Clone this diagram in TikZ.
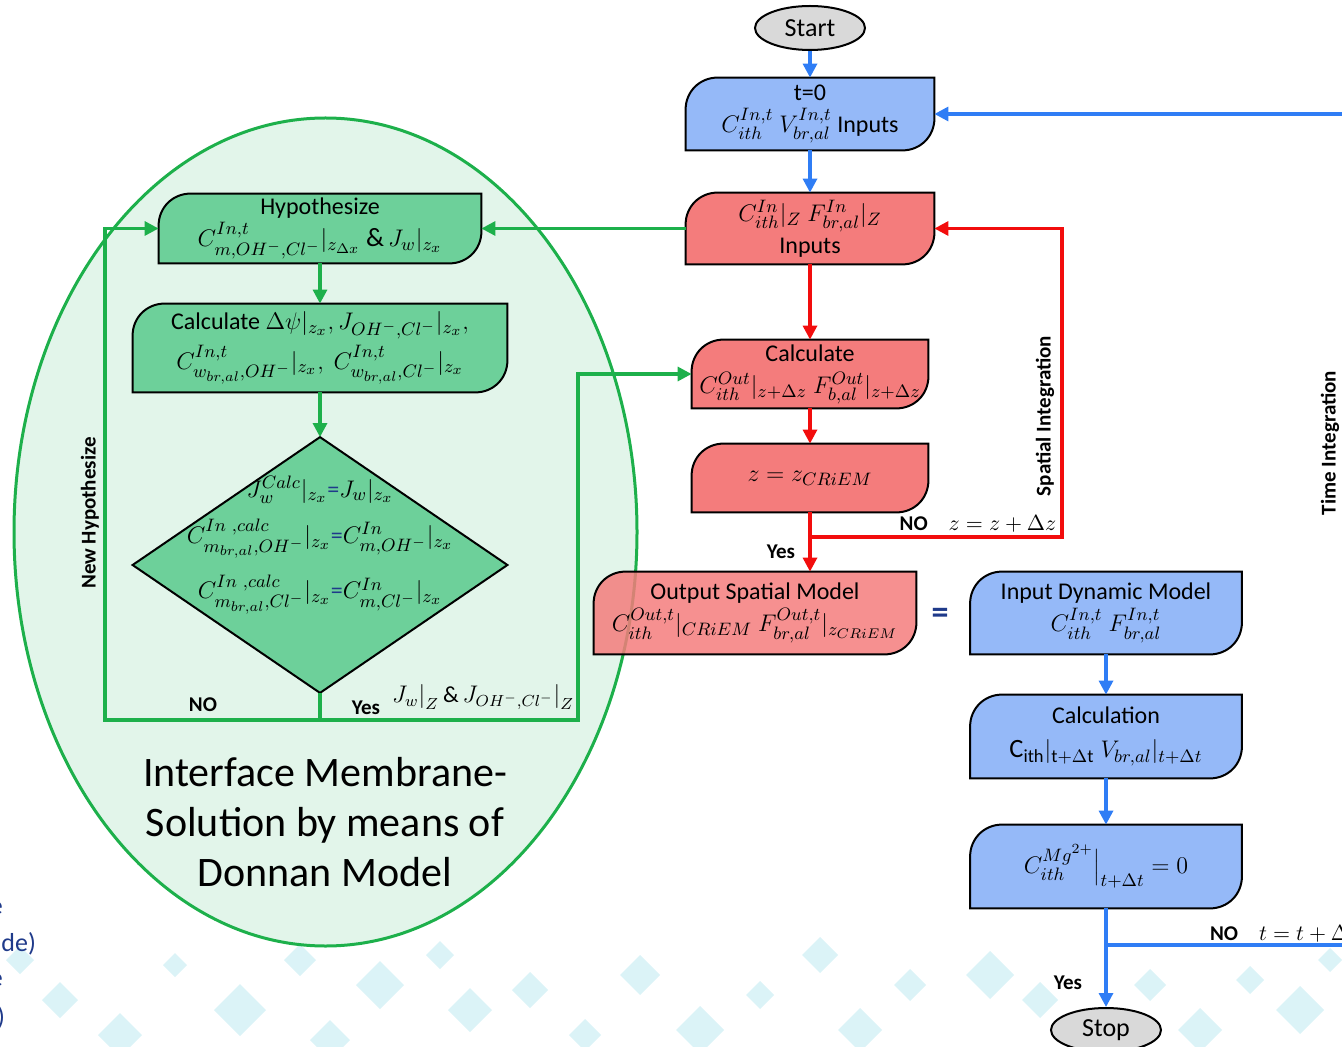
\documentclass[tikz,border=0pt]{standalone}
\usepackage{fontspec}
\setmainfont{Carlito}
\usetikzlibrary{arrows.meta,shapes.geometric}
\pgfdeclarelayer{back}
\pgfdeclarelayer{frames}
\pgfsetlayers{back,frames,main}

\definecolor{boxblue}{HTML}{95B9F8}
\definecolor{boxred}{HTML}{F47C7C}
\definecolor{boxgreen}{HTML}{6DD09A}
\definecolor{zonegreen}{HTML}{E2F5EA}
\definecolor{linegreen}{HTML}{1DB04B}
\definecolor{lineblue}{HTML}{2F7DF5}
\definecolor{linered}{HTML}{F20D0D}
\definecolor{navy}{HTML}{1F3A8A}
\definecolor{termgray}{HTML}{D9D9D9}
\definecolor{tilecyan}{HTML}{D2F0F5}

\tikzset{
  flow/.style={rectangle, inner sep=0pt, align=center, font=\fontsize{12}{15}\selectfont},
  term/.style={ellipse, draw=black, line width=1pt, fill=termgray, inner sep=0pt,
    minimum width=55pt, minimum height=22pt, font=\fontsize{13}{15}\selectfont},
  tag/.style={font=\fontsize{10.5}{12}\selectfont\bfseries},
  frameline/.style={draw=black, line width=1pt},
  link/.style={line width=1.6pt},
  tip/.style={-{Triangle[length=7pt,width=7pt]}},
  zone title/.style={align=center, font=\fontsize{21}{25}\selectfont},
  slide text/.style={anchor=east, text=navy, font=\fontsize{13}{15}\selectfont}
}

% slightly larger maths inside the boxes
\newcommand{\mth}[1]{{\fontsize{13.2}{16}\selectfont$#1$}}

% box with rounded top-left and bottom-right corners
\newcommand{\frameit}[2]{%
  \draw[frameline, fill=#2] (#1.north east)
    -- ([xshift=16pt]#1.north west) .. controls ([xshift=7pt]#1.north west) and ([yshift=-7pt]#1.north west) .. ([yshift=-16pt]#1.north west)
    -- (#1.south west)
    -- ([xshift=-16pt]#1.south east) .. controls ([xshift=-7pt]#1.south east) and ([yshift=7pt]#1.south east) .. ([yshift=16pt]#1.south east)
    -- cycle;}

\begin{document}
\begin{tikzpicture}[x=0.5pt, y=-0.5pt]
\useasboundingbox (0,0) rectangle (1342,1047);
\clip (0,0) rectangle (1342,1047);

% background tiles and membrane zone
\begin{pgfonlayer}{back}
  \foreach \tx/\ty/\ts in {20/960/14, 60/1000/18, 120/1035/22, 175/965/12, 240/1010/26,
      300/960/16, 330/1040/20, 380/985/24, 440/955/14, 470/1010/22, 530/990/18,
      585/1035/16, 640/975/20, 700/1030/24, 760/995/14, 820/955/18, 860/1030/22,
      910/985/16, 990/975/24, 1040/1000/18, 1150/985/16, 1200/1030/22, 1250/980/14,
      1300/1010/24, 1330/960/12}
    \fill[tilecyan, fill opacity=0.8] ({\tx-\ts},\ty) -- (\tx,{\ty-\ts}) -- ({\tx+\ts},\ty) -- (\tx,{\ty+\ts}) -- cycle;
  \draw[linegreen, line width=1.5pt, fill=zonegreen] (325.5,532) ellipse [x radius=311.5, y radius=414];
\end{pgfonlayer}

% spatial model
\node[term] (start) at (810,28) {Start};
\node[flow, minimum width=124pt, minimum height=36pt] (inblue) at (810,114)
  {t=0\\[1pt] \mth{C_{ith}^{In,t}\ V_{br,al}^{In,t}} Inputs};
\node[flow, minimum width=124pt, minimum height=35.5pt] (inred) at (810,228.5)
  {\mth{C_{ith}^{In}|_Z\ F_{br,al}^{In}|_Z}\\[1pt] Inputs};
\node[flow, minimum width=118pt, minimum height=34pt] (calcred) at (810,374)
  {Calculate\\[1pt] \mth{C_{ith}^{Out}|_{z+\Delta z}\ F_{b,al}^{Out}|_{z+\Delta z}}};
\node[flow, minimum width=118pt, minimum height=34pt] (zred) at (810,478)
  {\mth{z=z_{CRiEM}}};
\node[flow, minimum width=161pt, minimum height=41pt] (outred) at (755,613)
  {Output Spatial Model\\[1pt] \mth{C_{ith}^{Out,t}|_{CRiEM}\ F_{br,al}^{Out,t}|_{z_{CRiEM}}}};

% dynamic model
\node[flow, minimum width=135.5pt, minimum height=41pt] (dynblue) at (1106,613)
  {Input Dynamic Model\\[1pt] \mth{C_{ith}^{In,t}\ F_{br,al}^{In,t}}};
\node[flow, minimum width=135.5pt, minimum height=41.5pt] (calcblue) at (1106,736.5)
  {Calculation\\[2pt] \mth{\mathrm{C_{ith}}|_{\mathrm{t}+\Delta\mathrm{t}}\ V_{br,al}|_{t+\Delta t}}};
\node[flow, minimum width=135.5pt, minimum height=41.5pt] (mgblue) at (1106,866.5)
  {\mth{C_{ith}^{Mg^{2+}}\Big|_{t+\Delta t}=0}};
\node[term] (stop) at (1106,1030) {Stop};

% Donnan model
\node[flow, minimum width=161pt, minimum height=34.5pt] (hypo) at (320,228.5)
  {Hypothesize\\[1pt] \mth{C^{In,t}_{m,OH^-,Cl^-}|_{z_{\Delta x}}\ \&\, J_w|_{z_x}}};
\node[flow, minimum width=187pt, minimum height=44pt] (calcgreen) at (320,348)
  {Calculate \mth{\Delta\psi|_{z_x}, J_{OH^-,Cl^-}|_{z_x},}\\[2pt] \mth{C^{In,t}_{w_{br,al},OH^-}|_{z_x},\ C^{In,t}_{w_{br,al},Cl^-}|_{z_x}}};
\node[rectangle, inner sep=0pt, minimum width=187pt, minimum height=127.5pt] (check) at (320,565) {};
\node[flow] (checktext) at (320,545)
  {\mth{J_w^{Calc}|_{z_x}}\textcolor{navy}{=}\mth{J_w|_{z_x}}\\[7pt]
   \mth{C^{In\ ,calc}_{m_{br,al},OH^-}|_{z_x}}\textcolor{navy}{=}\mth{C^{In}_{m,OH^-}|_{z_x}}\\[7pt]
   \mth{C^{In\ ,calc}_{m_{br,al},Cl^-}|_{z_x}}\textcolor{navy}{=}\mth{C^{In}_{m,Cl^-}|_{z_x}}};

\begin{pgfonlayer}{frames}
  \frameit{inblue}{boxblue}
  \frameit{inred}{boxred}
  \frameit{calcred}{boxred}
  \frameit{zred}{boxred}
  \frameit{outred}{boxred, fill opacity=0.85}
  \frameit{dynblue}{boxblue}
  \frameit{calcblue}{boxblue}
  \frameit{mgblue}{boxblue}
  \frameit{hypo}{boxgreen}
  \frameit{calcgreen}{boxgreen}
  \draw[frameline, fill=boxgreen] (check.north) -- (check.east) -- (check.south) -- (check.west) -- cycle;
\end{pgfonlayer}

\node[zone title] (zonetitle) at (325,822) {Interface Membrane-\\Solution by means of\\Donnan Model};

% connectors
\coordinate (zsplit) at (810,537);
\coordinate (zturn) at (1062,537);
\coordinate (gsplit) at (320,720);
\coordinate (gleft) at (105,720);
\coordinate (gright) at (578,720);
\coordinate (tsplit) at (1106,945);
\coordinate (tout) at (1342,945);
\coordinate (tback) at (1342,114);

\draw[link, lineblue, tip] (start) -- (inblue);
\draw[link, lineblue, tip] (inblue) -- (inred);
\draw[link, lineblue, tip] (tback) -- (inblue.east);
\draw[link, linered, tip] (inred) -- (calcred);
\draw[link, linered, tip] (calcred) -- (zred);
\draw[link, linered, tip] (zred.south) -- (zred.south |- outred.north);
\draw[link, linered, tip] (zsplit) -- (zturn) |- (inred.east);
\draw[link, linegreen, tip] (inred.west) -- (hypo.east);
\draw[link, linegreen, tip] (hypo) -- (calcgreen);
\draw[link, linegreen, tip] (calcgreen) -- (check.north);
\draw[link, linegreen] (check.south) -- (gsplit);
\draw[link, linegreen, tip] (gsplit) -- (gleft) |- (hypo.west);
\draw[link, linegreen, tip] (gsplit) -- (gright) |- (calcred.west);
\draw[link, lineblue, tip] (dynblue) -- (calcblue);
\draw[link, lineblue, tip] (calcblue) -- (mgblue);
\draw[link, lineblue, tip] (mgblue) -- (stop);
\draw[link, lineblue] (tsplit) -- (tout);

% labels
\node[tag] (nohyp) at (203,705) {NO};
\node[tag] (yeshyp) at (366,708) {Yes};
\node[font=\fontsize{11.5}{14}\selectfont] (fluxlabel) at (483,697) {$J_w\big|_Z \,\&\, J_{OH^-,Cl^-}\big|_Z$};
\node[tag, rotate=90] (newhyp) at (90,513) {New Hypothesize};
\node[tag] (yesz) at (781,552) {Yes};
\node[tag] (noz) at (978,524) {NO\quad $z=z+\Delta z$};
\node[tag, rotate=90] (spatial) at (1045,416) {Spatial Integration};
\node[tag, rotate=90] (timeint) at (1330,443) {Time Integration};
\node[tag, anchor=west] (not) at (1203,934) {NO\quad $t=t+\Delta t$};
\node[tag] (yest) at (1068,983) {Yes};
\node[font=\fontsize{17}{20}\selectfont\bfseries, text=navy] (equiv) at (940,616) {=};

% cut-off slide text
\node[slide text] (frag1) at (10,908) {e};
\node[slide text] (frag2) at (43,944) {ide)};
\node[slide text] (frag3) at (10,980) {e};
\node[slide text] (frag4) at (12,1018) {)};
\end{tikzpicture}
\end{document}
